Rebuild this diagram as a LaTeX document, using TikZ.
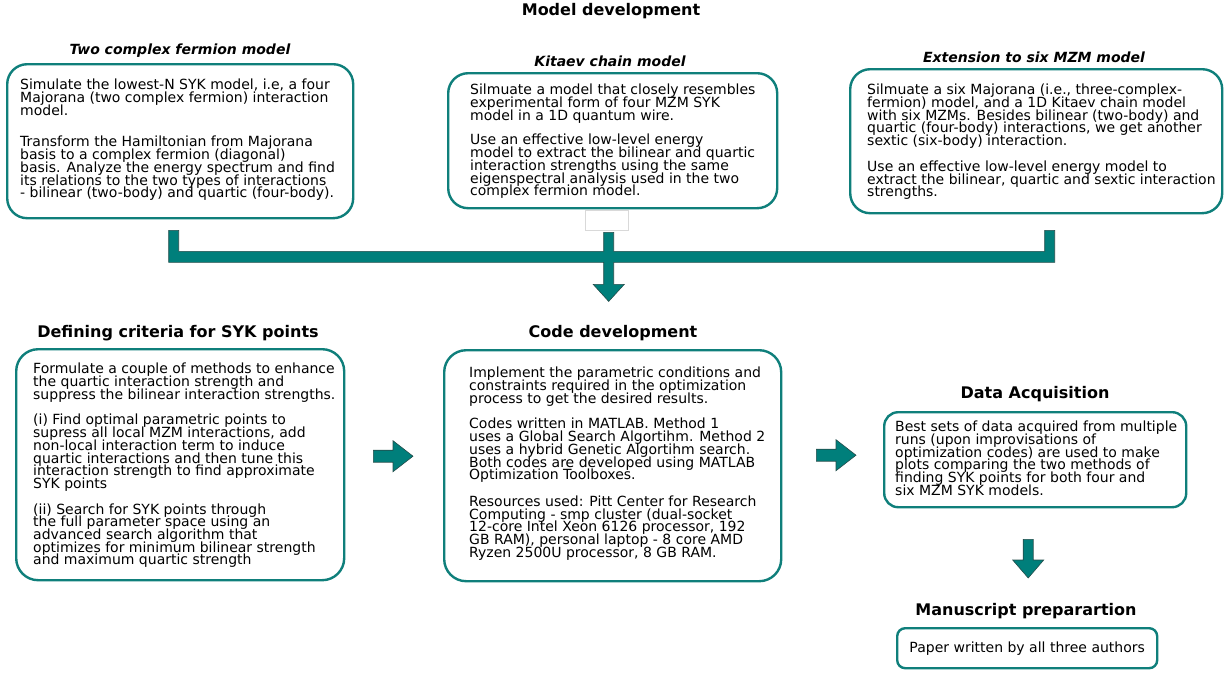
\documentclass[tikz,border=0pt]{standalone}
\usepackage{fontspec}
\setmainfont{DejaVu Sans}
\usepackage{tikz}
\usetikzlibrary{calc}
\definecolor{tealline}{HTML}{0F7F7B}
\definecolor{tealfill}{HTML}{007F7B}
\definecolor{tealedge}{HTML}{244C4A}
\newcommand{\tightlines}{\lineskiplimit=-50pt\relax\lineskip=0pt\relax}
\tikzset{
  panel/.style={draw=tealline, line width=2.4pt, fill=white, inner sep=0pt, anchor=north west},
  paneltxt/.style={inner sep=0pt, anchor=north west, align=left,
    font=\fontsize{14}{12.7}\selectfont\tightlines},
  heading/.style={inner sep=0pt, font=\fontsize{16}{18}\selectfont\bfseries},
  subheading/.style={inner sep=0pt, font=\fontsize{14}{16}\selectfont\bfseries\itshape},
  blockarrow/.style={fill=tealfill, draw=tealedge, line width=0.6pt, line join=miter}
}
\newcommand{\panelbox}[6]{\node[panel, rounded corners=#6, minimum width=#4, minimum height=#5] (#1) at (#2,#3) {};}
\newcommand{\rarrow}[2]{\filldraw[blockarrow] ($#1+(0,-6)$) -- ($#2+(-20,-6)$) -- ($#2+(-20,-15.5)$) -- #2 -- ($#2+(-20,15.5)$) -- ($#2+(-20,6)$) -- ($#1+(0,6)$) -- cycle;}
\newcommand{\darrow}[2]{\filldraw[blockarrow] ($#1+(-5,0)$) -- ($#2+(-5,-18)$) -- ($#2+(-15.5,-18)$) -- #2 -- ($#2+(15.5,-18)$) -- ($#2+(5,-18)$) -- ($#1+(5,0)$) -- cycle;}
\begin{document}
\begin{tikzpicture}[x=1pt,y=-1pt]
  \useasboundingbox (0,0) rectangle (1230,673);
  % top row
  \node[heading] (modeldev) at (611,11) {Model development};
  \node[subheading] (twocf-t) at (180,51) {Two complex fermion model};
  \node[subheading] (kitaev-t) at (610,61) {Kitaev chain model};
  \node[subheading] (sixmzm-t) at (1034,57) {Extension to six MZM model};
  \panelbox{twocf}{6}{63}{346}{154}{20pt}
  \panelbox{kitaev}{447}{72}{329}{135}{20pt}
  \panelbox{sixmzm}{849}{68}{372}{144}{20pt}
  \node[paneltxt] (twocf-x) at (20,79) {Simulate the lowest-N SYK model, i.e, a four\\
    Majorana (two complex fermion) interaction\\ model.\\[19pt]
    Transform the Hamiltonian from Majorana\\ basis to a complex fermion (diagonal)\\
    basis. Analyze the energy spectrum and find\\ its relations to the two types of interactions\\
    - bilinear (two-body) and quartic (four-body).};
  \node[paneltxt] (kitaev-x) at (470,84) {Silmuate a model that closely resembles\\
    experimental form of four MZM SYK\\ model in a 1D quantum wire.\\[12pt]
    Use an effective low-level energy\\ model to extract the bilinear and quartic\\
    interaction strengths using the same\\ eigenspectral analysis used in the two\\
    complex fermion model.};
  \node[paneltxt] (sixmzm-x) at (867,84) {Silmuate a six Majorana (i.e., three-complex-\\
    fermion) model, and a 1D Kitaev chain model\\ with six MZMs. Besides bilinear (two-body) and\\
    quartic (four-body) interactions, we get another\\ sextic (six-body) interaction.\\[13pt]
    Use an effective low-level energy model to\\ extract the bilinear, quartic and sextic interaction\\
    strengths.};
  % joining arrow
  \draw[black!15, line width=0.6pt] (585,210) rectangle (628,230);
  \coordinate (jl) at ($(twocf.south)+(-6.5,11)$);
  \coordinate (jm) at ($(kitaev.south)+(-4,23)$);
  \coordinate (jr) at ($(sixmzm.south)+(13.5,16)$);
  \filldraw[blockarrow] ($(jl)+(-5,0)$) -- ($(jl)+(-5,32)$) -- ($(jm)+(-5,30)$) -- ($(jm)+(-5,52)$)
    -- ($(jm)+(-15.5,52)$) -- ($(jm)+(0,69)$) -- ($(jm)+(15.5,52)$) -- ($(jm)+(5,52)$)
    -- ($(jm)+(5,30)$) -- ($(jr)+(5,32)$) -- ($(jr)+(5,0)$) -- ($(jr)+(-5,0)$)
    -- ($(jr)+(-5,21)$) -- ($(jm)+(5,19)$) -- ($(jm)+(5,0)$) -- ($(jm)+(-5,0)$)
    -- ($(jm)+(-5,19)$) -- ($(jl)+(5,21)$) -- ($(jl)+(5,0)$) -- cycle;
  % bottom row
  \node[heading] (criteria-t) at (178,333) {Defining criteria for SYK points};
  \node[heading] (code-t) at (613,333) {Code development};
  \node[heading] (data-t) at (1035,394) {Data Acquisition};
  \node[heading] (manu-t) at (1026,611) {Manuscript preparartion};
  \panelbox{criteria}{15}{348}{328}{231}{22pt}
  \panelbox{code}{443}{349}{337}{231}{22pt}
  \panelbox{data}{883}{411}{302}{95}{14pt}
  \panelbox{manu}{896}{627}{260}{40}{8pt}
  \node[paneltxt] (criteria-x) at (33,363) {Formulate a couple of methods to enhance\\
    the quartic interaction strength and\\ suppress the bilinear interaction strengths.\\[13pt]
    (i) Find optimal parametric points to\\ supress all local MZM interactions, add\\
    non-local interaction term to induce\\ quartic interactions and then tune this\\
    interaction strength to find approximate\\ SYK points\\[13pt]
    (ii) Search for SYK points through\\ the full parameter space using an\\
    advanced search algorithm that\\ optimizes for minimum bilinear strength\\
    and maximum quartic strength};
  \node[paneltxt] (code-x) at (469,367) {Implement the parametric conditions and\\
    constraints required in the optimization\\ process to get the desired results.\\[13pt]
    Codes written in MATLAB. Method 1\\ uses a Global Search Algortihm. Method 2\\
    uses a hybrid Genetic Algortihm search.\\ Both codes are developed using MATLAB\\
    Optimization Toolboxes.\\[14pt]
    Resources used: Pitt Center for Research\\ Computing - smp cluster (dual-socket\\
    12-core Intel Xeon 6126 processor, 192\\ GB RAM), personal laptop - 8 core AMD\\
    Ryzen 2500U processor, 8 GB RAM.};
  \node[paneltxt] (data-x) at (895,421) {Best sets of data acquired from multiple\\
    runs (upon improvisations of\\ optimization codes) are used to make\\
    plots comparing the two methods of\\ finding SYK points for both four and\\
    six MZM SYK models.};
  \node[paneltxt, anchor=center] (manu-x) at (manu.center) {Paper written by all three authors};
  % arrows
  \coordinate (a1s) at ($(criteria.east)+(28,-8.5)$);
  \coordinate (a1e) at ($(code.west)+(-30,-9.5)$);
  \coordinate (a2s) at ($(code.east)+(34,-10.5)$);
  \coordinate (a2e) at ($(data.west)+(-27,-4.5)$);
  \coordinate (a3s) at ($(data.south)+(-7,31)$);
  \coordinate (a3e) at ($(manu.north)+(1,-49)$);
  \rarrow{(a1s)}{(a1e)}
  \rarrow{(a2s)}{(a2e)}
  \darrow{(a3s)}{(a3e)}
\end{tikzpicture}
\end{document}
